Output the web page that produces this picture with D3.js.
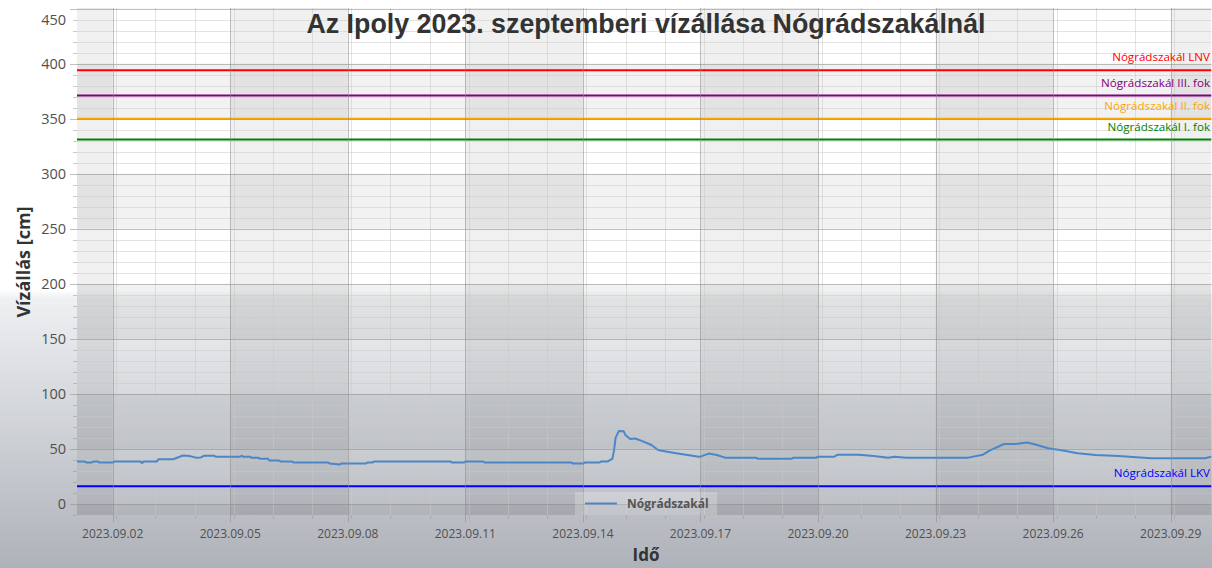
<!DOCTYPE html>
<html>
<head>
<meta charset="utf-8">
<script src="https://cdn.jsdelivr.net/npm/d3@7"></script>
<style>
  html, body { margin: 0; padding: 0; background: #fff; }
  svg { display: block; }
</style>
</head>
<body>
<svg id="chart" width="1212" height="568"></svg>
<script>
// ---------------- DATA ----------------
const chartTitle = "Az Ipoly 2023. szeptemberi vízállása Nógrádszakálnál";
const yAxisTitle = "Vízállás [cm]";
const xAxisTitle = "Idő";
const seriesName = "Nógrádszakál";

const xDomain = ["2023-09-01 02:08", "2023-09-30 01:00"];
const yDomain = [-10, 450.5];

const xTickLabels = ["2023.09.02", "2023.09.05", "2023.09.08", "2023.09.11", "2023.09.14",
                     "2023.09.17", "2023.09.20", "2023.09.23", "2023.09.26", "2023.09.29"];
const yTickValues = [0, 50, 100, 150, 200, 250, 300, 350, 400, 450];
const yMinorStep = 10;

const thresholdNames  = ["Nógrádszakál LNV", "Nógrádszakál III. fok", "Nógrádszakál II. fok", "Nógrádszakál I. fok", "Nógrádszakál LKV"];
const thresholdValues = [394, 371, 350, 331, 16];
const thresholdColors = ["#ff0000", "#800080", "#ffa500", "#008000", "#0000ff"];

const times = [
 "2023-09-01 02:00","2023-09-01 07:00","2023-09-01 08:00","2023-09-01 11:00","2023-09-01 12:00",
 "2023-09-01 15:00","2023-09-01 16:00","2023-09-02 00:00","2023-09-02 01:00","2023-09-02 17:00",
 "2023-09-02 18:00","2023-09-02 19:00","2023-09-03 03:00","2023-09-03 04:00","2023-09-03 13:00",
 "2023-09-03 19:00","2023-09-03 23:00","2023-09-04 03:00","2023-09-04 06:00","2023-09-04 08:00",
 "2023-09-04 14:00","2023-09-04 15:00","2023-09-05 06:00","2023-09-05 07:00","2023-09-05 08:00",
 "2023-09-05 12:00","2023-09-05 13:00","2023-09-05 17:00","2023-09-05 18:00","2023-09-05 23:00",
 "2023-09-06 00:00","2023-09-06 06:00","2023-09-06 07:00","2023-09-06 14:00","2023-09-06 15:00",
 "2023-09-07 12:00","2023-09-07 13:00","2023-09-07 19:00","2023-09-07 20:00","2023-09-08 11:00",
 "2023-09-08 12:00","2023-09-08 15:00","2023-09-08 16:00","2023-09-10 15:00","2023-09-10 16:00",
 "2023-09-10 23:00","2023-09-11 00:00","2023-09-11 11:00","2023-09-11 12:00","2023-09-13 17:00",
 "2023-09-13 18:00","2023-09-14 00:00","2023-09-14 01:00","2023-09-14 10:00","2023-09-14 11:00",
 "2023-09-14 15:00","2023-09-14 16:00","2023-09-14 18:00","2023-09-14 19:00","2023-09-14 20:00",
 "2023-09-14 22:00","2023-09-15 01:00","2023-09-15 02:00","2023-09-15 05:00","2023-09-15 08:00",
 "2023-09-15 12:00","2023-09-15 18:00","2023-09-15 22:00","2023-09-16 03:00","2023-09-16 09:00",
 "2023-09-16 16:00","2023-09-16 23:00","2023-09-17 00:00","2023-09-17 05:00","2023-09-17 10:00",
 "2023-09-17 15:00","2023-09-18 10:00","2023-09-18 11:00","2023-09-19 08:00","2023-09-19 09:00",
 "2023-09-19 23:00","2023-09-20 00:00","2023-09-20 10:00","2023-09-20 12:00","2023-09-21 01:00",
 "2023-09-21 10:00","2023-09-21 19:00","2023-09-21 23:00","2023-09-22 06:00","2023-09-23 20:00",
 "2023-09-24 05:00","2023-09-24 09:00","2023-09-24 18:00","2023-09-25 01:00","2023-09-25 08:00",
 "2023-09-25 12:00","2023-09-25 21:00","2023-09-26 06:00","2023-09-26 15:00","2023-09-27 02:00",
 "2023-09-27 16:00","2023-09-28 12:00","2023-09-29 21:00","2023-09-30 01:00"
];
const levels = [
 38.5,38.5,37.6,37.6,38.5,
 38.5,37.6,37.6,38.5,38.5,
 37.3,38.5,38.5,40.6,40.6,
 44,43.5,42.1,42.3,43.9,
 43.9,43,43,43.8,43,
 43,42.1,42.1,41.2,41.2,
 39.4,39.4,38.5,38.5,37.6,
 37.6,36.7,35.8,36.7,36.7,
 37.6,37.6,38.5,38.5,37.6,
 37.6,38.5,38.5,37.6,37.6,
 36.7,36.7,37.6,37.6,38.5,
 38.5,39.4,41,48,60,
 66.4,66,62.7,59,59.5,
 57.3,53.6,49.1,47.6,46.1,
 44.5,43,43,45.8,44.5,
 42.1,42.1,41.2,41.2,42.1,
 42.1,43,43,44.8,44.8,
 43.6,42.1,43,42.1,42.1,
 44.8,48.5,54.5,54.5,55.8,
 54.5,50.6,48.5,46.1,44.5,
 43.6,41.5,41.5,43
];

// ---------------- LAYOUT ----------------
const W = 1212, H = 568;
const plot = { left: 77, right: 1211.5, top: 8, bottom: 515 };
const parseT = d3.timeParse("%Y-%m-%d %H:%M");
const parseTick = d3.timeParse("%Y.%m.%d");

const svg = d3.select("#chart");
const defs = svg.append("defs");

// figure background gradient
const bg = defs.append("linearGradient").attr("id", "bgGrad")
  .attr("x1", 0).attr("y1", 0).attr("x2", 0).attr("y2", 1);
bg.append("stop").attr("offset", "0%").attr("stop-color", "#ffffff");
bg.append("stop").attr("offset", "51%").attr("stop-color", "#ffffff");
bg.append("stop").attr("offset", "52.5%").attr("stop-color", "#eef0f2");
bg.append("stop").attr("offset", "100%").attr("stop-color", "#aeb2b9");
svg.append("rect").attr("width", W).attr("height", H).attr("fill", "url(#bgGrad)");

defs.append("clipPath").attr("id", "plotClip").append("rect")
  .attr("x", plot.left).attr("y", plot.top)
  .attr("width", plot.right - plot.left).attr("height", plot.bottom - plot.top);

const x = d3.scaleTime().domain(xDomain.map(parseT)).range([plot.left, plot.right]);
const y = d3.scaleLinear().domain(yDomain).range([plot.bottom, plot.top]);

const xTickDates = xTickLabels.map(parseTick);
const g = svg.append("g").attr("clip-path", "url(#plotClip)");

// alternating column fills
const colEdges = [x.domain()[0], ...xTickDates, x.domain()[1]];
for (let i = 0; i < colEdges.length - 1; i++) {
  if (i % 2 === 0) {
    g.append("rect")
      .attr("x", x(colEdges[i])).attr("y", plot.top)
      .attr("width", x(colEdges[i + 1]) - x(colEdges[i]))
      .attr("height", plot.bottom - plot.top)
      .attr("fill", "rgba(0,0,0,0.058)");
  }
}
// alternating row fills
const rowEdges = [yDomain[0], ...yTickValues, yDomain[1]];
for (let i = 0; i < rowEdges.length - 1; i++) {
  const lo = rowEdges[i];
  const band = Math.floor(lo / 50);
  if (Math.abs(band) % 2 === 1) {
    g.append("rect")
      .attr("x", plot.left).attr("y", y(rowEdges[i + 1]))
      .attr("width", plot.right - plot.left)
      .attr("height", y(rowEdges[i]) - y(rowEdges[i + 1]))
      .attr("fill", "rgba(0,0,0,0.05)");
  }
}

// minor grid
const yMinor = d3.range(yDomain[0], yDomain[1], yMinorStep).filter(v => yTickValues.indexOf(v) < 0);
g.selectAll(".ymin").data(yMinor).join("line")
  .attr("x1", plot.left).attr("x2", plot.right)
  .attr("y1", d => Math.round(y(d)) + 0.5).attr("y2", d => Math.round(y(d)) + 0.5)
  .attr("stroke", "rgba(200,200,200,0.5)").attr("stroke-width", 1);
const xMinor = d3.range(1, 30).map(k => d3.timeDay.offset(x.domain()[0], k)).filter(d => d < x.domain()[1]);
g.selectAll(".xmin").data(xMinor).join("line")
  .attr("x1", d => Math.round(x(d)) + 0.5).attr("x2", d => Math.round(x(d)) + 0.5)
  .attr("y1", plot.top).attr("y2", plot.bottom)
  .attr("stroke", "rgba(200,200,200,0.5)").attr("stroke-width", 1);

// major grid
svg.selectAll(".ymaj").data(yTickValues).join("line")
  .attr("x1", plot.left - 7).attr("x2", plot.right)
  .attr("y1", d => Math.round(y(d)) + 0.5).attr("y2", d => Math.round(y(d)) + 0.5)
  .attr("stroke", "rgba(140,140,140,0.55)").attr("stroke-width", 1);
svg.selectAll(".xmaj").data(xTickDates).join("line")
  .attr("x1", d => Math.round(x(d)) + 0.5).attr("x2", d => Math.round(x(d)) + 0.5)
  .attr("y1", plot.top).attr("y2", plot.bottom + 7)
  .attr("stroke", "rgba(140,140,140,0.55)").attr("stroke-width", 1);

// minor ticks
svg.selectAll(".ymint").data(yMinor).join("line")
  .attr("x1", plot.left - 4).attr("x2", plot.left)
  .attr("y1", d => Math.round(y(d)) + 0.5).attr("y2", d => Math.round(y(d)) + 0.5)
  .attr("stroke", "rgba(150,150,150,0.5)");
svg.selectAll(".xmint").data(xMinor).join("line")
  .attr("x1", d => Math.round(x(d)) + 0.5).attr("x2", d => Math.round(x(d)) + 0.5)
  .attr("y1", plot.bottom).attr("y2", plot.bottom + 4)
  .attr("stroke", "rgba(150,150,150,0.5)");

// y tick labels
svg.selectAll(".ylab").data(yTickValues).join("text")
  .attr("x", 66)
  .attr("y", d => Math.max(y(d), 20))
  .attr("dy", "0.35em")
  .attr("text-anchor", "end")
  .attr("font-family", "'Open Sans', 'Noto Sans', sans-serif")
  .attr("font-size", 14.5)
  .attr("fill", "#505050")
  .text(d => d);

// x tick labels
svg.selectAll(".xlab").data(xTickDates).join("text")
  .attr("x", d => x(d))
  .attr("y", 538)
  .attr("text-anchor", "middle")
  .attr("font-family", "'Open Sans', 'Noto Sans', sans-serif")
  .attr("font-size", 12)
  .attr("fill", "#505050")
  .text((d, i) => xTickLabels[i]);

// threshold lines
const thr = thresholdValues.map((v, i) => ({ v, name: thresholdNames[i], color: thresholdColors[i] }));
g.selectAll(".thr").data(thr).join("line")
  .attr("x1", plot.left).attr("x2", plot.right)
  .attr("y1", d => y(d.v)).attr("y2", d => y(d.v))
  .attr("stroke", d => d.color).attr("stroke-width", 2);
svg.selectAll(".thrlab").data(thr).join("text")
  .attr("x", 1210)
  .attr("y", d => y(d.v) - 9)
  .attr("text-anchor", "end")
  .attr("font-family", "'Open Sans', 'Noto Sans', sans-serif")
  .attr("font-size", 11.6)
  .attr("fill", d => d.color)
  .text(d => d.name);

// series
const pts = times.map((t, i) => ({ t: parseT(t), v: levels[i] }));
const line = d3.line().x(d => x(d.t)).y(d => y(d.v)).curve(d3.curveLinear);
g.append("path").datum(pts)
  .attr("d", line)
  .attr("fill", "none")
  .attr("stroke", "#4a86c8")
  .attr("stroke-width", 2)
  .attr("stroke-linejoin", "round");

// legend
const leg = svg.append("g");
leg.append("rect").attr("x", 575).attr("y", 492).attr("width", 142).attr("height", 23)
  .attr("fill", "rgba(255,255,255,0.22)");
leg.append("line").attr("x1", 585).attr("x2", 617).attr("y1", 503.5).attr("y2", 503.5)
  .attr("stroke", "#4a86c8").attr("stroke-width", 2);
leg.append("text").attr("x", 627).attr("y", 508)
  .attr("font-family", "'Open Sans', 'Noto Sans', sans-serif")
  .attr("font-size", 12).attr("font-weight", "bold").attr("fill", "#555")
  .text(seriesName);

// title
svg.append("text").attr("x", 646).attr("y", 33)
  .attr("text-anchor", "middle")
  .attr("font-family", "'Liberation Sans', Arial, sans-serif")
  .attr("font-size", 26.8).attr("font-weight", "bold").attr("fill", "#333")
  .text(chartTitle);

// axis titles
svg.append("text")
  .attr("transform", "translate(30,262) rotate(-90)")
  .attr("text-anchor", "middle")
  .attr("font-family", "'Open Sans', 'Noto Sans', sans-serif")
  .attr("font-size", 18).attr("font-weight", "bold").attr("fill", "#333")
  .text(yAxisTitle);
svg.append("text").attr("x", 646).attr("y", 561)
  .attr("text-anchor", "middle")
  .attr("font-family", "'Open Sans', 'Noto Sans', sans-serif")
  .attr("font-size", 17).attr("font-weight", "bold").attr("fill", "#333")
  .text(xAxisTitle);
</script>
</body>
</html>
